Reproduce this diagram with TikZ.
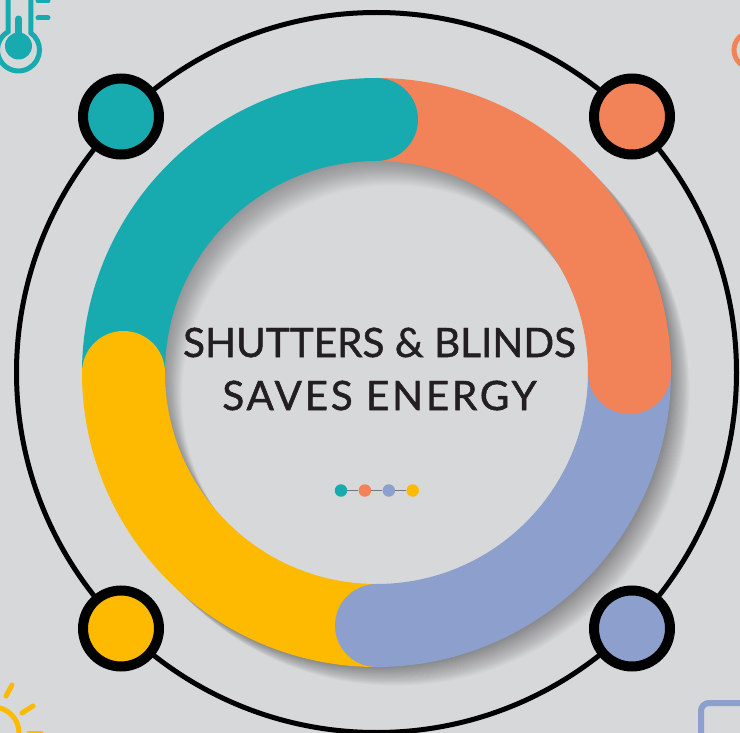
\documentclass[tikz,border=0pt]{standalone}
\usepackage{fontspec}
\newfontfamily\titlefont[FakeBold=1.2]{Lato}
\newfontfamily\titlewide[FakeBold=1.2,LetterSpace=6.8]{Lato}
\usetikzlibrary{arrows.meta, positioning}

\definecolor{bgGray}{HTML}{D7D8DA}
\definecolor{tealC}{HTML}{17ABB0}
\definecolor{orangeC}{HTML}{F28359}
\definecolor{blueC}{HTML}{8D9FCD}
\definecolor{yellowC}{HTML}{FDBA00}
\definecolor{titleC}{HTML}{231F20}

\begin{document}
\begin{tikzpicture}[
x=1pt, y=1pt,
marker/.style={circle, draw=black, line width=10pt, minimum size=76pt, inner sep=0pt},
dot/.style={circle, minimum size=12.5pt, inner sep=0pt},
dotlink/.style={draw=gray!90!blue, line width=1.4pt},
band/.style={line width=83pt},
icon/.style={line width=5pt, line cap=round},
title/.style={font=\titlefont\fontsize{40.5}{53}\selectfont, text=titleC, align=center}
]
\useasboundingbox (0,-733) rectangle (740,0);
\clip (0,-733) rectangle (740,0);
\fill[bgGray] (0,-733) rectangle (740,0);

\coordinate (c) at (376.5,-372.5);

% Outer glow and shadow
\foreach \k in {20,22,...,44}
  \fill[white, opacity=.012] ([shift={(\k*.8,-\k*.8)}]c) circle (294);
\foreach \k in {1,...,24}
  \fill[black, opacity=.014] ([shift={(\k*.8,-\k*.8)}]c) circle (294);

% Outer ring
\draw[line width=5pt] (c) circle (360);

% Inner plate
\begin{scope}
\clip (c) circle (212);
\fill[bgGray] (c) circle (212);
\foreach \k in {20,22,...,44}
  \fill[white, opacity=.012, even odd rule] (c) circle (300) ([shift={(\k*.7,-\k)}]c) circle (211);
\foreach \k in {1,...,24}
  \fill[black, opacity=.012, even odd rule] (c) circle (300) ([shift={(\k*.7,-\k)}]c) circle (211);
\end{scope}

% Band
\foreach \col/\a in {orangeC/0, tealC/90, yellowC/180, blueC/270}
  \draw[band, \col] ([shift={(\a:253)}]c) arc (\a:\a+90:253);
\foreach \col/\a in {orangeC/0, tealC/90, yellowC/180, blueC/270}
  \fill[\col] ([shift={(\a:253)}]c) circle (41.5);

% Corner markers
\node[marker, fill=tealC] (teal) at (121,-116.5) {};
\node[marker, fill=orangeC] (orange) at (632,-116.5) {};
\node[marker, fill=yellowC] (yellow) at (121,-628.5) {};
\node[marker, fill=blueC] (blue) at (632,-628.5) {};

% Title
\node[title] (head) at (379.5,-369) {SHUTTERS \& BLINDS\\\titlewide SAVES ENERGY};

% Dots
\node[dot, fill=tealC] (d1) at (341,-490.5) {};
\node[dot, fill=orangeC, right=11pt of d1] (d2) {};
\node[dot, fill=blueC, right=11pt of d2] (d3) {};
\node[dot, fill=yellowC, right=11pt of d3] (d4) {};
\draw[dotlink] (d1) -- (d2);
\draw[dotlink] (d2) -- (d3);
\draw[dotlink] (d3) -- (d4);

% Thermometer
\draw[tealC, line width=5pt] (8,5) -- (8,-31.8) arc (120:413.5:21) -- (31,5);
\fill[tealC] (18.5,-46) circle (13.5);
\draw[tealC, line width=7pt, line cap=round] (18.5,-46) -- (18.5,-19);
\draw[tealC, icon] (38,-18) -- (48,-18);
\draw[tealC, icon] (38,-1) -- (48,-1);

% Circle icon
\draw[orangeC, line width=5pt] (752,-50) circle (18);

% Sun
\draw[yellowC, icon] (-7,-707) arc (90:0:26);
\draw[yellowC, icon] (12,-685) -- (6,-696);
\draw[yellowC, icon] (33,-706) -- (22,-713);
\draw[yellowC, icon] (29,-733) -- (41,-733);

% Frame
\draw[blueC, line width=6pt, rounded corners=8pt] (701,-740) |- (750,-703);

\end{tikzpicture}
\end{document}
